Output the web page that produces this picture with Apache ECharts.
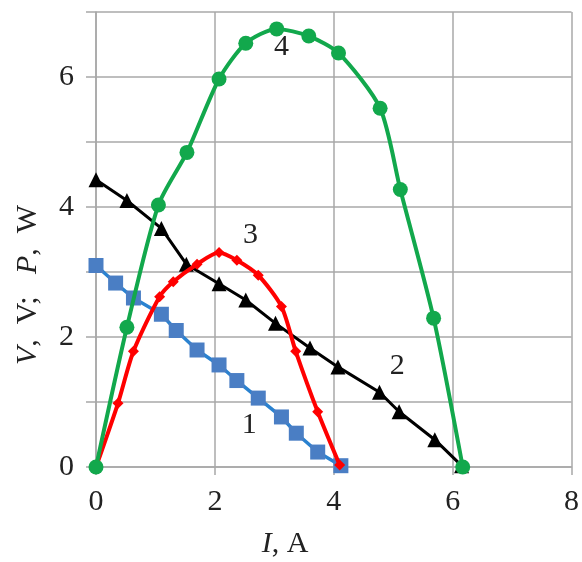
<!DOCTYPE html>
<html>
<head>
    <meta charset="UTF-8">
    <title>I-V and P-I curves</title>
    <script src="https://cdn.jsdelivr.net/npm/echarts@6/dist/echarts.min.js"></script>
    <style>
        html, body { margin: 0; padding: 0; background: #fff; }
        #chart { width: 582px; height: 562px; }
    </style>
</head>
<body>
    <div id="chart"></div>
    <script>
        // curve 1: voltage, squares
        const curve1 = [[0, 3.1], [0.33, 2.83], [0.63, 2.6], [1.1, 2.35], [1.35, 2.1], [1.7, 1.8], [2.07, 1.57],
            [2.37, 1.33], [2.73, 1.06], [3.12, 0.77], [3.37, 0.52], [3.73, 0.23], [4.12, 0.02]];
        // curve 2: voltage, triangles
        const curve2 = [[0, 4.42], [0.52, 4.1], [1.1, 3.67], [1.52, 3.12], [2.07, 2.82], [2.52, 2.57], [3.02, 2.21],
            [3.6, 1.83], [4.07, 1.54], [4.77, 1.15], [5.1, 0.85], [5.7, 0.42], [6.15, 0.02]];
        // curve 3: power, diamonds
        const curve3 = [[0, 0], [0.37, 0.98], [0.63, 1.78], [1.07, 2.62], [1.3, 2.85], [1.7, 3.12], [2.07, 3.3],
            [2.37, 3.18], [2.73, 2.95], [3.12, 2.47], [3.36, 1.78], [3.73, 0.85], [4.1, 0.03]];
        // curve 4: power, circles
        const curve4 = [[0, 0], [0.52, 2.15], [1.05, 4.03], [1.53, 4.84], [2.07, 5.97], [2.52, 6.52], [3.04, 6.74],
            [3.58, 6.63], [4.08, 6.37], [4.78, 5.52], [5.12, 4.27], [5.68, 2.29], [6.17, 0]];

        const curveLabels = ['1', '2', '3', '4'];
        const labelSpots = [[2.58, 0.65], [5.07, 1.55], [2.6, 3.57], [3.12, 6.46]];

        const serif = '"Times New Roman", "Liberation Serif", Times, serif';
        const gridColor = '#a8a8a8';

        let chart = echarts.init(document.getElementById('chart'));

        let option = {
            animation: false,
            grid: { left: 96, right: 5, top: 12, bottom: 95 },
            xAxis: {
                type: 'value',
                min: 0,
                max: 8,
                interval: 2,
                axisLine: { lineStyle: { color: gridColor, width: 1.5 } },
                axisTick: { show: true, length: 8, lineStyle: { color: gridColor, width: 1.5 } },
                splitLine: { lineStyle: { color: gridColor, width: 1.5 } },
                axisLabel: { fontFamily: serif, fontSize: 30, color: '#222', margin: 20 }
            },
            yAxis: {
                type: 'value',
                min: 0,
                max: 7,
                interval: 1,
                axisLine: { show: true, lineStyle: { color: gridColor, width: 1.5 } },
                axisTick: { show: true, length: 10, lineStyle: { color: gridColor, width: 1.5 } },
                splitLine: { lineStyle: { color: gridColor, width: 1.5 } },
                axisLabel: {
                    fontFamily: serif, fontSize: 30, color: '#222', margin: 22,
                    formatter: v => (v % 2 === 0 ? String(v) : '')
                }
            },
            series: [
                {
                    type: 'line',
                    data: curve1,
                    symbol: 'rect',
                    symbolSize: 15,
                    itemStyle: { color: '#4a7ec4' },
                    lineStyle: { color: '#2a82d0', width: 3.5 },
                    z: 2
                },
                {
                    type: 'line',
                    data: curve2,
                    symbol: 'triangle',
                    symbolSize: 15,
                    itemStyle: { color: '#000' },
                    lineStyle: { color: '#000', width: 3 },
                    z: 3
                },
                {
                    type: 'line',
                    data: curve3,
                    smooth: 0.25,
                    symbol: 'diamond',
                    symbolSize: 11,
                    itemStyle: { color: '#ff0000' },
                    lineStyle: { color: '#ff0000', width: 4 },
                    z: 4
                },
                {
                    type: 'line',
                    data: curve4,
                    smooth: 0.25,
                    symbol: 'circle',
                    symbolSize: 15,
                    itemStyle: { color: '#12a84c' },
                    lineStyle: { color: '#12a84c', width: 4 },
                    z: 5
                }
            ]
        };

        chart.setOption(option);

        // curve numbers and axis titles
        let graphics = curveLabels.map((t, i) => {
            let p = chart.convertToPixel({ gridIndex: 0 }, labelSpots[i]);
            return {
                type: 'text',
                x: p[0],
                y: p[1],
                z: 10,
                style: {
                    text: t, fontFamily: serif, fontSize: 30, fill: '#222',
                    align: 'center', verticalAlign: 'middle'
                }
            };
        });

        graphics.push({
            type: 'text',
            x: 285,
            y: 544,
            style: {
                text: '{i|I}, A',
                fontFamily: serif, fontSize: 30, fill: '#222',
                align: 'center', verticalAlign: 'middle',
                rich: { i: { fontFamily: serif, fontSize: 30, fontStyle: 'italic', fill: '#222' } }
            }
        });

        graphics.push({
            type: 'text',
            x: 28,
            y: 285,
            rotation: Math.PI / 2,
            style: {
                text: '{i|V},  V;   {i|P},  W',
                fontFamily: serif, fontSize: 30, fill: '#222',
                align: 'center', verticalAlign: 'middle',
                rich: { i: { fontFamily: serif, fontSize: 30, fontStyle: 'italic', fill: '#222' } }
            }
        });

        chart.setOption({ graphic: graphics });
    </script>
</body>
</html>
